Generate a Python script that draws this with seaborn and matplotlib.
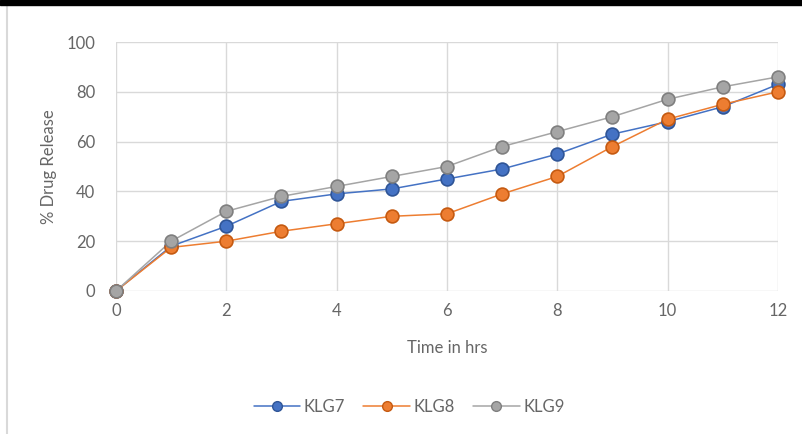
import pandas as pd
import matplotlib.pyplot as plt
import seaborn as sns
from matplotlib.patches import Rectangle
from matplotlib.lines import Line2D

# time points (hrs) and % drug release per formulation
hours = [0, 1, 2, 3, 4, 5, 6, 7, 8, 9, 10, 11, 12]
klg7 = [0, 18, 26, 36, 39, 41, 45, 49, 55, 63, 68, 74, 83]
klg8 = [0, 17.5, 20, 24, 27, 30, 31, 39, 46, 58, 69, 75, 80]
klg9 = [0, 20, 32, 38, 42, 46, 50, 58, 64, 70, 77, 82, 86]
series_names = ["KLG7", "KLG8", "KLG9"]
colors = {"KLG7": "#4472C4", "KLG8": "#ED7D31", "KLG9": "#A5A5A5"}
edges = {"KLG7": "#2F5597", "KLG8": "#C55A11", "KLG9": "#7F7F7F"}

df = pd.DataFrame({
    "hrs": hours * 3,
    "release": klg7 + klg8 + klg9,
    "series": [s for s in series_names for _ in hours],
})

sns.set_style("white")
plt.rcParams["font.family"] = ["Lato", "DejaVu Sans"]

fig = plt.figure(figsize=(8.02, 4.34), dpi=100)
ax = fig.add_axes([0.1446, 0.3295, 0.8254, 0.5737])

sns.lineplot(data=df, x="hrs", y="release", hue="series", palette=colors,
             linewidth=1.1, legend=False, ax=ax)
for name in series_names:
    sub = df[df["series"] == name]
    ax.scatter(sub["hrs"], sub["release"], s=85, color=colors[name],
               edgecolor=edges[name], linewidth=1.2, zorder=3, clip_on=False)

ax.set_xlim(0, 12)
ax.set_ylim(0, 100)
ax.set_xticks(range(0, 13, 2))
ax.set_yticks(range(0, 101, 20))
ax.grid(True, color="#D9D9D9", linewidth=1)
for sp in ax.spines.values():
    sp.set_visible(False)
ax.tick_params(length=0, labelsize=12, colors="#666666")
ax.tick_params(axis="y", pad=15)
ax.tick_params(axis="x", pad=9)
ax.set_xlabel("Time in hrs", fontsize=12, color="#666666", labelpad=15)
ax.set_ylabel("% Drug Release", fontsize=12, color="#666666", labelpad=7)

handles = [Line2D([0], [0], color=colors[n], marker="o", markersize=7,
                  markeredgecolor=edges[n], linewidth=1.1) for n in series_names]
fig.legend(handles, series_names, loc="center", bbox_to_anchor=(0.51, 0.062),
           ncol=3, frameon=False, fontsize=12, labelcolor="#666666",
           handlelength=2.8, columnspacing=1.1, handletextpad=0.2)

# dark band at top and thin border at left, as in the source screenshot
fig.patches.append(Rectangle((0, 0.988), 1, 0.012, transform=fig.transFigure,
                             color="black", zorder=5))
fig.add_artist(Line2D([0.009, 0.009], [0, 0.988], transform=fig.transFigure,
                      color="#D9D9D9", linewidth=1.5))

fig.savefig("out.png", dpi=100)
